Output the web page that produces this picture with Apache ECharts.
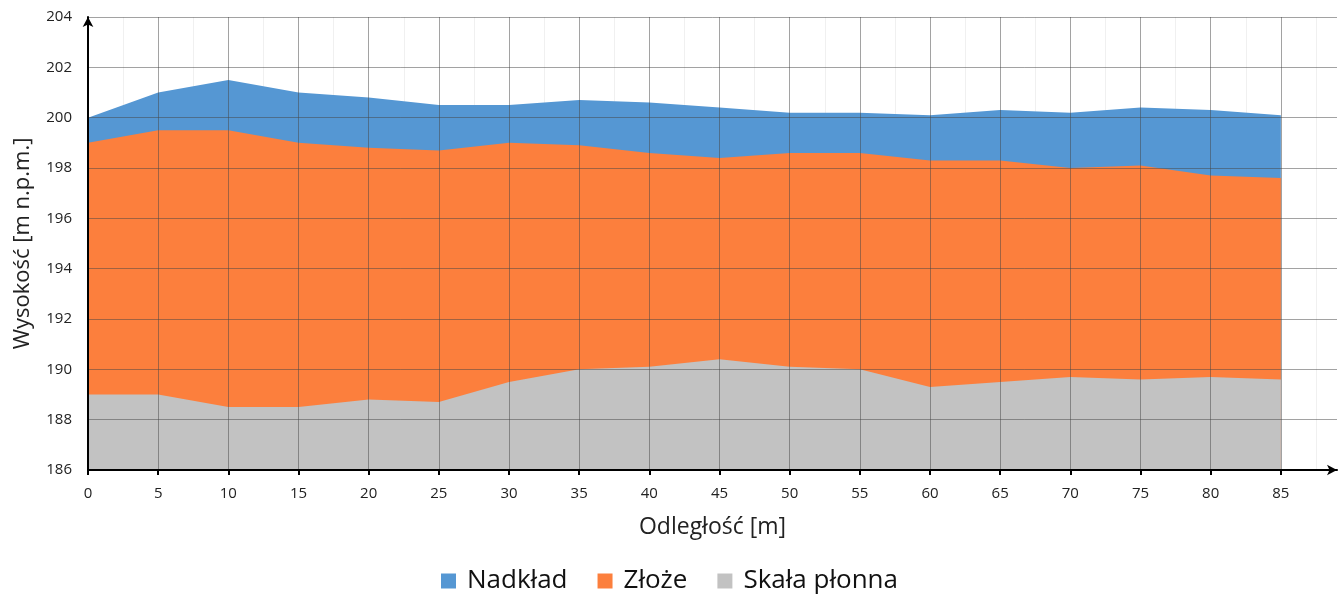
<!DOCTYPE html>
<html>
<head>
<meta charset="utf-8">
<script src="https://cdn.jsdelivr.net/npm/echarts@6/dist/echarts.min.js"></script>
<style>html,body{margin:0;padding:0;background:#fff}#c{width:1339px;height:601px}</style>
</head>
<body>
<div id="c"></div>
<script>
const distances = [0,5,10,15,20,25,30,35,40,45,50,55,60,65,70,75,80,85];
// surface elevations [m n.p.m.]
const nadkladTop = [200.0,201.0,201.5,201.0,200.8,200.5,200.5,200.7,200.6,200.4,200.2,200.2,200.1,200.3,200.2,200.4,200.3,200.1];
const zlozeTop   = [199.0,199.5,199.5,199.0,198.8,198.7,199.0,198.9,198.6,198.4,198.6,198.6,198.3,198.3,198.0,198.1,197.7,197.6];
const skalaTop   = [189.0,189.0,188.5,188.5,188.8,188.7,189.5,190.0,190.1,190.4,190.1,190.0,189.3,189.5,189.7,189.6,189.7,189.6];
const xTicks = [0,5,10,15,20,25,30,35,40,45,50,55,60,65,70,75,80,85];
const yTicks = [186,188,190,192,194,196,198,200,202,204];
const names = ['Nadkład','Złoże','Skała płonna'];
const colors = ['#5597d3','#fc7f3d','#c2c2c2'];

const pair = arr => distances.map((d,i)=>[d,arr[i]]);
const font = '"Open Sans", "Noto Sans", sans-serif';

const chart = echarts.init(document.getElementById('c'), null, {renderer:'canvas'});
chart.setOption({
  animation:false,
  textStyle:{fontFamily:font},
  grid:{left:88,right:2,top:17,bottom:131,containLabel:false},
  legend:{
    data:names, bottom:2, left:'center', icon:'rect', itemWidth:15, itemHeight:15, itemGap:30,
    textStyle:{fontSize:26,color:'#111',fontFamily:font,padding:[0,0,0,6]}
  },
  xAxis:[{
    type:'value', min:0, max:89, interval:5, z:3,
    name:'Odległość [m]', nameLocation:'middle', nameGap:46,
    nameTextStyle:{fontSize:23,color:'#222',fontFamily:font},
    axisLine:{show:true,symbol:['none','arrow'],symbolSize:[8,10],lineStyle:{color:'#000',width:2}},
    axisTick:{show:true,length:5,inside:false,lineStyle:{color:'#000',width:2},customValues:xTicks},
    axisLabel:{fontSize:15,color:'#222',margin:16,customValues:xTicks},
    splitLine:{show:true,lineStyle:{color:'rgba(70,70,70,0.5)',width:1}}
  },{
    type:'value', min:0, max:89, interval:5, z:0, position:'top',
    axisLine:{show:false}, axisTick:{show:false}, axisLabel:{show:false},
    splitLine:{show:false},
    minorTick:{show:false,splitNumber:2},
    minorSplitLine:{show:true,lineStyle:{color:'rgba(0,0,0,0.06)',width:1}}
  }],
  yAxis:{
    type:'value', min:186, max:204, interval:2, z:3,
    name:'Wysokość [m n.p.m.]', nameLocation:'middle', nameGap:54, nameRotate:90,
    nameTextStyle:{fontSize:22,color:'#222',fontFamily:font},
    axisLine:{show:true,onZero:false,symbol:['none','arrow'],symbolSize:[8,10],lineStyle:{color:'#000',width:2}},
    axisTick:{show:false},
    axisLabel:{fontSize:15,color:'#222',margin:16,customValues:yTicks},
    splitLine:{show:true,lineStyle:{color:'rgba(70,70,70,0.5)',width:1}}
  },
  series:[
    {name:names[0],type:'line',data:pair(nadkladTop),symbol:'none',lineStyle:{width:0},
     areaStyle:{color:colors[0],opacity:1,origin:'start'},itemStyle:{color:colors[0]},z:1},
    {name:names[1],type:'line',data:pair(zlozeTop),symbol:'none',lineStyle:{width:0},
     areaStyle:{color:colors[1],opacity:1,origin:'start'},itemStyle:{color:colors[1]},z:1},
    {name:names[2],type:'line',data:pair(skalaTop),symbol:'none',lineStyle:{width:0},
     areaStyle:{color:colors[2],opacity:1,origin:'start'},itemStyle:{color:colors[2]},z:1}
  ]
});
</script>
</body>
</html>
